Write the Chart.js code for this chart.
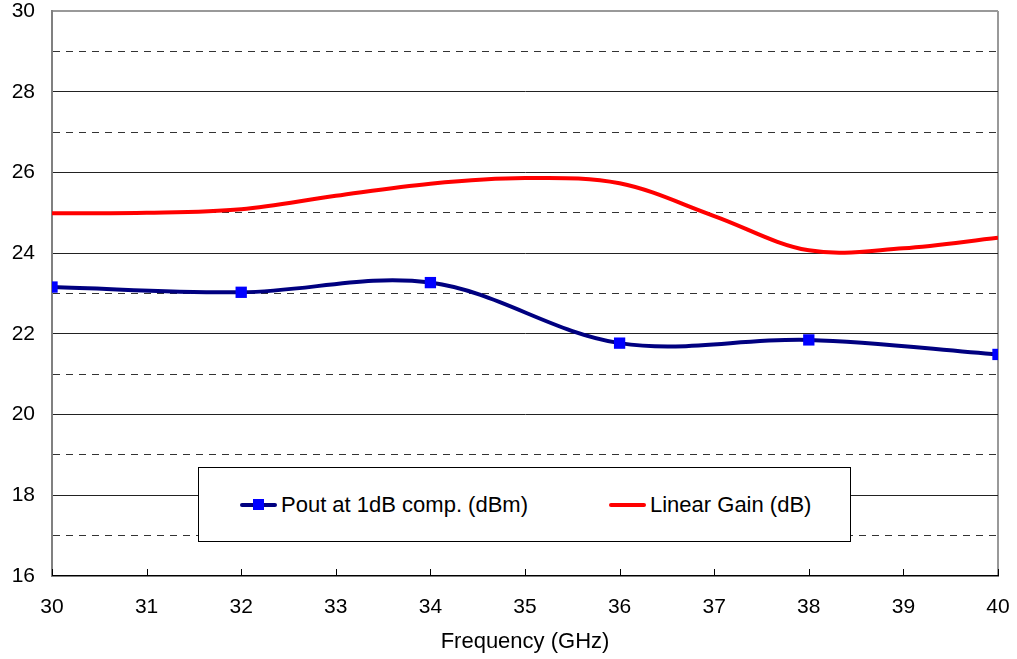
<!DOCTYPE html>
<html>
<head>
<meta charset="utf-8">
<script src="https://cdn.jsdelivr.net/npm/chart.js@4/dist/chart.umd.min.js"></script>
<style>
  html, body { margin: 0; padding: 0; background: #fff; }
  .wrap { position: relative; width: 1017px; height: 659px; font-family: Arial, "Liberation Sans", sans-serif; }
  canvas { display: block; }
  .legend {
    position: absolute; left: 198px; top: 467px; width: 651px; height: 73px;
    border: 1px solid #000; background: #fff; font-size: 22px; color: #000;
  }
  .legend .item { position: absolute; top: 24px; height: 26px; line-height: 26px; white-space: nowrap; }
  .legend .swatch { position: absolute; top: 11px; width: 37px; height: 4px; border-radius: 2px; }
  .legend .mark { position: absolute; top: 7px; left: 13px; width: 11px; height: 11px; background: #0000ff; }
  .legend .label { position: absolute; left: 41px; top: 0; }
</style>
</head>
<body>
<div class="wrap">
  <canvas id="chart" width="1017" height="659"></canvas>
  <div class="legend">
    <div class="item" style="left:41px">
      <div class="swatch" style="background:#000080"></div><div class="mark"></div>
      <span class="label">Pout at 1dB comp. (dBm)</span>
    </div>
    <div class="item" style="left:410px">
      <div class="swatch" style="background:#ff0000"></div>
      <span class="label">Linear Gain (dB)</span>
    </div>
  </div>
</div>
<script>
// ── Data ─────────────────────────────────────────────────────
const poutFreq  = [30, 32, 34, 36, 38, 40];
const poutValue = [23.16, 23.03, 23.27, 21.77, 21.85, 21.49];
const gainFreq  = [30, 31, 32, 33, 34, 35, 36, 37, 38, 39, 40];
const gainValue = [24.99, 25.0, 25.09, 25.42, 25.72, 25.86, 25.73, 24.92, 24.07, 24.12, 24.38];
const xTicks = [30, 31, 32, 33, 34, 35, 36, 37, 38, 39, 40];
const yTicks = [16, 18, 20, 22, 24, 26, 28, 30];

const TICK_FONT  = { family: 'Arial, "Liberation Sans", sans-serif', size: 21 };
const TITLE_FONT = { family: 'Arial, "Liberation Sans", sans-serif', size: 22 };

// inward tick marks on the x axis
const frame = {
  id: 'frame',
  afterDatasetsDraw(chart) {
    const { ctx, chartArea: a, scales } = chart;
    ctx.save();
    ctx.strokeStyle = '#000'; ctx.lineWidth = 1;
    xTicks.forEach(v => {
      const x = Math.round(scales.x.getPixelForValue(v)) + 0.5;
      ctx.beginPath(); ctx.moveTo(x, a.bottom - 7); ctx.lineTo(x, a.bottom); ctx.stroke();
    });
    ctx.restore();
  }
};

new Chart(document.getElementById('chart'), {
  type: 'line',
  data: {
    datasets: [
      {
        label: 'Pout at 1dB comp. (dBm)',
        data: poutFreq.map((f, i) => ({ x: f, y: poutValue[i] })),
        borderColor: '#000080', borderWidth: 4,
        pointStyle: 'rect', pointRadius: 8, pointBackgroundColor: '#0000ff',
        pointBorderWidth: 0, tension: 0.35
      },
      {
        label: 'Linear Gain (dB)',
        data: gainFreq.map((f, i) => ({ x: f, y: gainValue[i] })),
        borderColor: '#ff0000', borderWidth: 4,
        pointRadius: 0, tension: 0.35
      }
    ]
  },
  options: {
    responsive: false, animation: false,
    layout: { padding: { top: 11, right: 19, left: 0, bottom: 0 } },
    plugins: { legend: { display: false }, tooltip: { enabled: false } },
    scales: {
      x: {
        type: 'linear', min: 30, max: 40,
        afterBuildTicks: s => { s.ticks = xTicks.map(v => ({ value: v })); },
        afterFit: s => { s.height = 83; s.paddingLeft = 0; s.paddingRight = 0; },
        ticks: { color: '#000', font: TICK_FONT, padding: 19 },
        grid: {
          drawTicks: false,
          color: c => (c.tick && c.tick.value === 40) ? '#999' : 'rgba(0,0,0,0)',
          lineWidth: 2
        },
        border: { color: '#000', width: 1.5 },
        title: { display: true, text: 'Frequency (GHz)', color: '#000', font: TITLE_FONT, padding: { top: 12 } }
      },
      y: {
        min: 16, max: 30,
        afterBuildTicks: s => {
          const t = [];
          for (let v = 16; v <= 30; v++) t.push({ value: v });
          s.ticks = t;
        },
        afterFit: s => { s.width = 52; s.paddingTop = 0; s.paddingBottom = 0; },
        ticks: {
          color: '#000', font: TICK_FONT, padding: 17,
          callback: v => yTicks.includes(v) ? String(v) : ''
        },
        grid: {
          drawTicks: false,
          color: c => {
            const v = c.tick && c.tick.value;
            if (v === 30) return '#999';
            if (v === 16) return 'rgba(0,0,0,0)';
            return v % 2 === 0 ? '#222' : '#333';
          },
          lineWidth: c => (c.tick && c.tick.value === 30) ? 2 : 1
        },
        border: {
          color: '#808080', width: 2,
          dash: c => (c.tick && c.tick.value % 2 === 1) ? [7, 6] : []
        }
      }
    }
  },
  plugins: [frame]
});
</script>
</body>
</html>
